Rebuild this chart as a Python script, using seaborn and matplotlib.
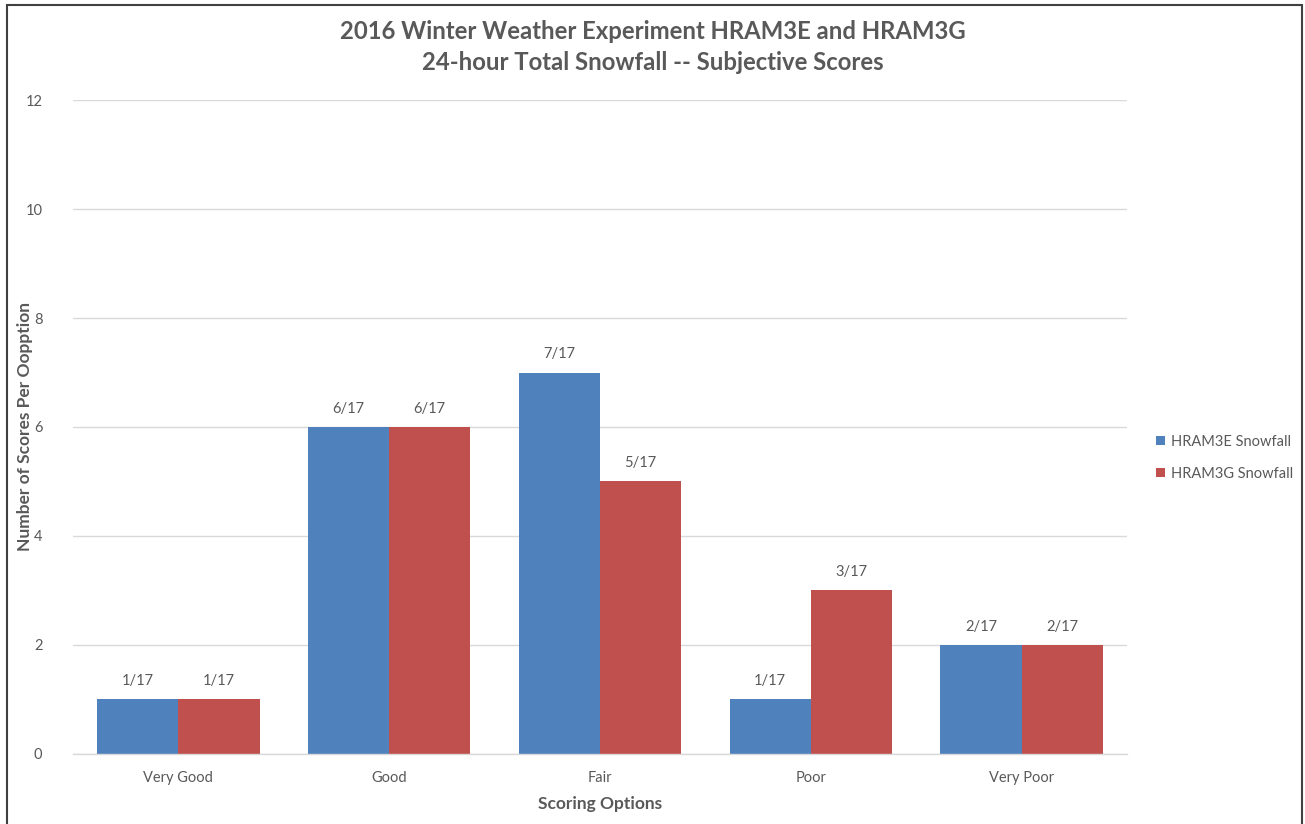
import matplotlib
matplotlib.use('Agg')
import matplotlib.pyplot as plt
import seaborn as sns
import pandas as pd
from matplotlib.patches import Rectangle

# Data
categories = ["Very Good", "Good", "Fair", "Poor", "Very Poor"]
series_names = ["HRAM3E Snowfall", "HRAM3G Snowfall"]
hram3e = [1, 6, 7, 1, 2]
hram3g = [1, 6, 5, 3, 2]
total = 17
yticks = [0, 2, 4, 6, 8, 10, 12]

df = pd.DataFrame({
    "Scoring Options": categories * 2,
    "Series": [series_names[0]] * len(categories) + [series_names[1]] * len(categories),
    "Count": hram3e + hram3g,
})

sns.set_theme(style="white")
plt.rcParams['font.family'] = ['Lato', 'DejaVu Sans']

text_gray = "#595959"
grid_gray = "#D9D9D9"
palette = {series_names[0]: "#4F81BD", series_names[1]: "#C0504D"}

fig = plt.figure(figsize=(13.05, 8.24), dpi=100)
ax = fig.add_axes([0.0559, 0.085, 0.8077, 0.7936])

sns.barplot(data=df, x="Scoring Options", y="Count", hue="Series",
            hue_order=series_names, order=categories, palette=palette,
            width=0.77, saturation=1, linewidth=0, ax=ax, legend=True)

ax.set_xlim(-0.5, len(categories) - 0.5)
ax.set_ylim(0, 12)
ax.set_yticks(yticks)
ax.yaxis.grid(True, color=grid_gray, linewidth=1)
ax.set_axisbelow(True)
for s in ["top", "right", "left"]:
    ax.spines[s].set_visible(False)
ax.spines["bottom"].set_color(grid_gray)
ax.spines["bottom"].set_linewidth(1)
ax.tick_params(axis="both", length=0, colors=text_gray, labelsize=10.5)
ax.tick_params(axis="x", pad=12)
ax.tick_params(axis="y", pad=22)

# value labels like "6/17"
for container, vals in zip(ax.containers, [hram3e, hram3g]):
    ax.bar_label(container, labels=[f"{v}/{total}" for v in vals],
                 padding=8, color=text_gray, fontsize=10.5)

ax.set_xlabel("Scoring Options", fontsize=12.5, fontweight="bold",
              color=text_gray, labelpad=8)
ax.set_ylabel("Number of Scores Per Oopption", fontsize=12.5,
              fontweight="bold", color=text_gray)
ax.yaxis.set_label_coords(-0.038, 0.5)

leg = ax.legend(loc="center left", bbox_to_anchor=(1.015, 0.453), frameon=False,
                fontsize=10.5, handlelength=0.6, handleheight=0.6,
                labelspacing=1.25, handletextpad=0.45)
for t in leg.get_texts():
    t.set_color(text_gray)

fig.text(0.5, 0.962, "2016 Winter Weather Experiment HRAM3E and HRAM3G",
         ha="center", va="center", fontsize=17.2, fontweight="bold", color=text_gray)
fig.text(0.5, 0.924, "24-hour Total Snowfall -- Subjective Scores",
         ha="center", va="center", fontsize=17.2, fontweight="bold", color=text_gray)

# outer frame
fig.patches.append(Rectangle((0.0055, -0.01), 0.992, 1.004, transform=fig.transFigure,
                             fill=False, edgecolor="#404040", linewidth=1.5))

fig.savefig("out.png", dpi=100)
plt.close(fig)
